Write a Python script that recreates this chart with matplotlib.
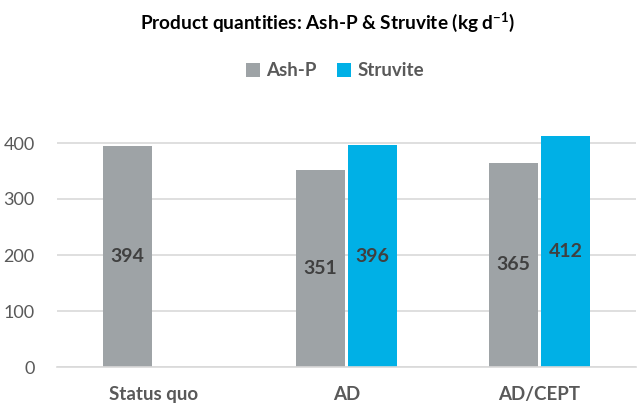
import matplotlib
matplotlib.use("Agg")
import matplotlib.pyplot as plt
import numpy as np

categories = ["Status quo", "AD", "AD/CEPT"]
ash_p = [394, 351, 365]
struvite = [None, 396, 412]
series_names = ["Ash-P", "Struvite"]
yticks = [0, 100, 200, 300, 400]

plt.rcParams['font.family'] = ['Lato', 'DejaVu Sans']
plt.rcParams['mathtext.fontset'] = 'custom'
plt.rcParams['mathtext.rm'] = 'Lato'
plt.rcParams['mathtext.bf'] = 'Lato:bold'

fig = plt.figure(figsize=(6.37, 4.03), dpi=100)
ax = fig.add_axes([57/637, 36/403, 579/637, 252/403])

x = np.arange(len(categories))
w = 0.25
off = 0.135
grey = "#9EA3A6"
blue = "#00B0E6"
txt = "#595959"

ax.set_axisbelow(True)
ax.yaxis.grid(True, color="#D9D9D9", linewidth=1.2)

xa = [xi - off for xi in x]
ax.bar(xa, ash_p, width=w, color=grey, label=series_names[0], zorder=2)
xs = [x[i] + off for i in range(len(x)) if struvite[i] is not None]
vs = [v for v in struvite if v is not None]
ax.bar(xs, vs, width=w, color=blue, label=series_names[1], zorder=2)

for xi, v in zip(xa, ash_p):
    ax.text(xi, v / 2, f"{v}", ha="center", va="center", fontsize=14,
            fontweight="bold", color="#404040", zorder=3)
for xi, v in zip(xs, vs):
    ax.text(xi, v / 2, f"{v}", ha="center", va="center", fontsize=14,
            fontweight="bold", color="#404040", zorder=3)

ax.set_xlim(-0.5, 2.5)
ax.set_ylim(0, 450)
ax.set_yticks(yticks)
ax.set_xticks(x)
ax.set_xticklabels(categories, fontsize=13.5, fontweight="bold", color=txt)
ax.tick_params(axis="y", labelsize=13, labelcolor=txt, length=0, pad=16)
ax.tick_params(axis="x", length=0, pad=14)
for s in ["top", "right", "left"]:
    ax.spines[s].set_visible(False)
ax.spines["bottom"].set_color("#D9D9D9")
ax.spines["bottom"].set_linewidth(1.2)

fig.text(328/637, 1 - 22/403, r"Product quantities: Ash-P & Struvite (kg d$^{\mathbf{-1}}$)",
         ha="center", va="center", fontsize=13.7, fontweight="bold", color="black")

leg = fig.legend(loc="center", bbox_to_anchor=(335/637, 1 - 71/403), ncol=2, frameon=False,
                 fontsize=13.5, handlelength=0.75, handleheight=0.75, handletextpad=0.35,
                 columnspacing=1.1)
for t in leg.get_texts():
    t.set_color(txt)
    t.set_fontweight("bold")

fig.savefig("out.png", dpi=100)
